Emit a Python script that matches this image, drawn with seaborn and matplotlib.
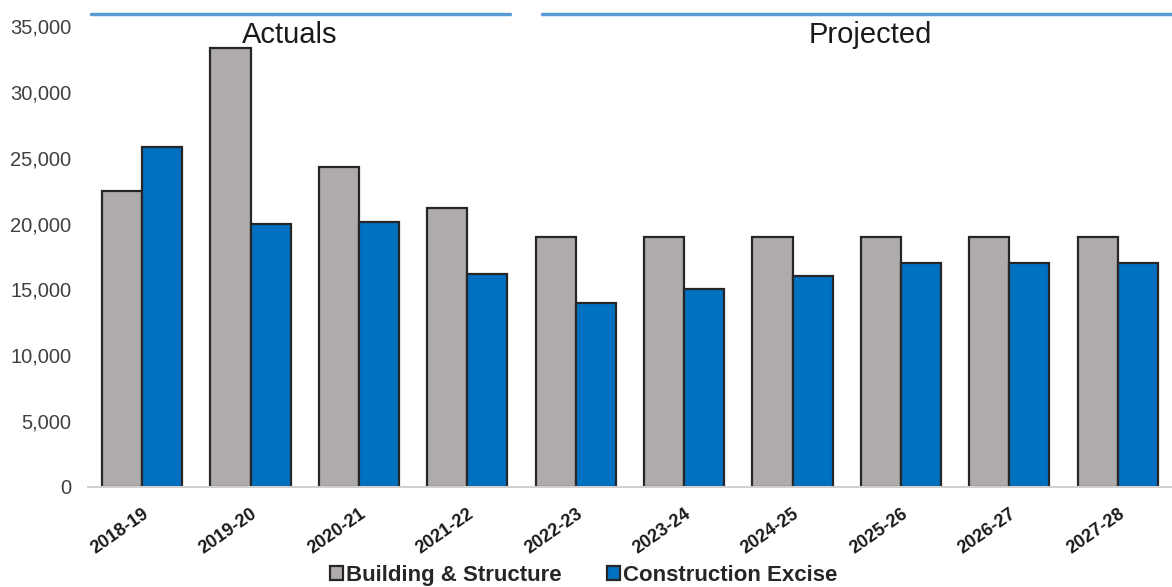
import matplotlib
matplotlib.use("Agg")
import matplotlib.pyplot as plt
import matplotlib.transforms as mtransforms
import seaborn as sns
import pandas as pd

years = ["2018-19", "2019-20", "2020-21", "2021-22", "2022-23",
         "2023-24", "2024-25", "2025-26", "2026-27", "2027-28"]
building = [22500, 33300, 24300, 21200, 19000, 19000, 19000, 19000, 19000, 19000]
excise = [25800, 20000, 20100, 16200, 14000, 15000, 16000, 17000, 17000, 17000]
series = ["Building & Structure", "Construction Excise"]
yticks = [0, 5000, 10000, 15000, 20000, 25000, 30000, 35000]

df = pd.DataFrame({
    "Year": years * 2,
    "Value": building + excise,
    "Series": [series[0]] * len(years) + [series[1]] * len(years),
})

sns.set_theme(style="white")
plt.rcParams["font.family"] = ["Liberation Sans", "DejaVu Sans"]

fig = plt.figure(figsize=(11.72, 5.87), dpi=100)
ax = fig.add_axes([0.075, 0.1704, 0.925, 0.7853])

palette = {series[0]: "#AFABAA", series[1]: "#0070C0"}
sns.barplot(data=df, x="Year", y="Value", hue="Series", order=years,
            hue_order=series, palette=palette, width=0.74, saturation=1,
            edgecolor="#262626", linewidth=1.6, ax=ax)

ax.set_ylim(0, 35000)
ax.set_xlim(-0.5, len(years) - 0.5)
ax.set_yticks(yticks)
ax.set_yticklabels([f"{v:,}" for v in yticks], fontsize=14.5, color="#404040")
ax.set_xlabel("")
ax.set_ylabel("")
for lab in ax.get_xticklabels():
    lab.set_rotation(35)
    lab.set_ha("right")
    lab.set_rotation_mode("anchor")
    lab.set_fontweight("bold")
    lab.set_fontsize(13)
    lab.set_color("#1a1a1a")
ax.tick_params(axis="x", length=0, pad=13)
ax.tick_params(axis="y", length=0, pad=12)
for s in ["top", "right", "left"]:
    ax.spines[s].set_visible(False)
ax.spines["bottom"].set_color("#D0D0D0")
ax.spines["bottom"].set_linewidth(1.5)

# Period header lines and labels
trans = mtransforms.blended_transform_factory(ax.transData, ax.transAxes)
ax.plot([-0.47, 3.39], [1.026, 1.026], transform=trans, color="#5B9BD5",
        lw=2.5, clip_on=False)
ax.plot([3.69, 9.5], [1.026, 1.026], transform=trans, color="#5B9BD5",
        lw=2.5, clip_on=False)
ax.text(1.36, 0.963, "Actuals", transform=trans, ha="center", va="baseline",
        fontsize=21, color="#1a1a1a")
ax.text(6.72, 0.963, "Projected", transform=trans, ha="center", va="baseline",
        fontsize=21, color="#1a1a1a")

handles, labels = ax.get_legend_handles_labels()
ax.get_legend().remove()
leg = fig.legend(handles, labels, loc="lower center", bbox_to_anchor=(0.498, -0.032),
                 ncol=2, frameon=False, handlelength=0.6, handleheight=0.6,
                 handletextpad=0.15, columnspacing=2.0,
                 prop={"size": 16, "weight": "bold"})
for t in leg.get_texts():
    t.set_color("#262626")

fig.savefig("out.png", dpi=100)
